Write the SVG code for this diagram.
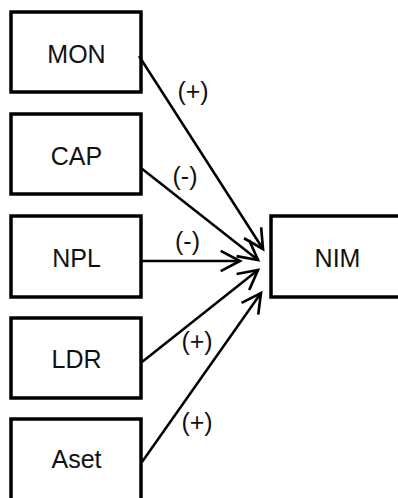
<svg xmlns="http://www.w3.org/2000/svg" width="398" height="498" viewBox="0 0 398 498">
<defs>
<style>
.box{fill:#fff;stroke:#000;stroke-width:3.5}
.lbl{font-family:"Liberation Sans",Arial,sans-serif;font-size:25px;fill:#111;text-anchor:middle}
.sgn{font-family:"Liberation Sans",Arial,sans-serif;font-size:25px;fill:#111;text-anchor:middle}
.edge{stroke:#000;stroke-width:2.5;fill:none;marker-end:url(#arr)}
</style>
<marker id="arr" markerUnits="userSpaceOnUse" markerWidth="30" markerHeight="30" viewBox="-22 -14 26 28" refX="0" refY="0" orient="auto">
<path d="M-18,-9.5 L0,0 L-18,9.5" fill="none" stroke="#000" stroke-width="2.5" stroke-linejoin="miter"/>
</marker>
</defs>
<rect width="398" height="498" fill="#fff"/>
<g id="MON"><rect class="box" x="11" y="12" width="130" height="80"/><text class="lbl" x="76.5" y="63">MON</text></g>
<g id="CAP"><rect class="box" x="11" y="114" width="130" height="80"/><text class="lbl" x="76.5" y="165">CAP</text></g>
<g id="NPL"><rect class="box" x="11" y="216" width="130" height="81"/><text class="lbl" x="76.5" y="266.5">NPL</text></g>
<g id="LDR"><rect class="box" x="11" y="318" width="130" height="80"/><text class="lbl" x="76.5" y="368">LDR</text></g>
<g id="Aset"><rect class="box" x="11" y="419" width="130" height="100"/><text class="lbl" x="76.5" y="468">Aset</text></g>
<g id="NIM"><rect class="box" x="271" y="216" width="134" height="81"/><text class="lbl" x="337.5" y="266.5">NIM</text></g>
<g id="connectors">
<line class="edge" x1="139" y1="56" x2="263" y2="249"/>
<line class="edge" x1="141" y1="168" x2="258" y2="260"/>
<line class="edge" x1="142" y1="261" x2="240" y2="261"/>
<line class="edge" x1="142" y1="362" x2="258" y2="270"/>
<line class="edge" x1="142" y1="462" x2="261" y2="293"/>
<text class="sgn" x="193" y="100">(+)</text>
<text class="sgn" x="185" y="185">(-)</text>
<text class="sgn" x="187.5" y="250">(-)</text>
<text class="sgn" x="197" y="350">(+)</text>
<text class="sgn" x="197" y="431">(+)</text>
</g>
</svg>
